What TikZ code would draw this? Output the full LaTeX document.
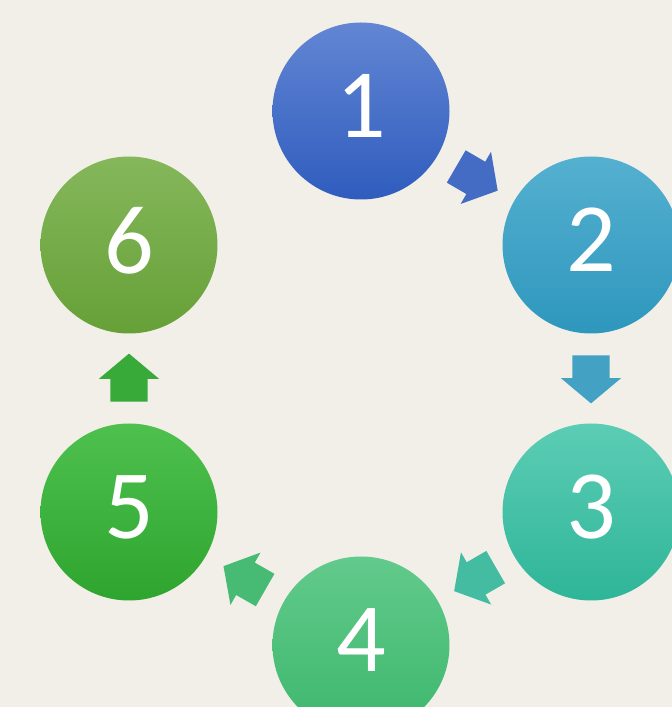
\documentclass[tikz,border=0pt]{standalone}
\usepackage{fontspec}
\setmainfont{Carlito}
\usepackage{tikz}
\usetikzlibrary{shapes.arrows}

\definecolor{paper}{HTML}{F2EFE8}
\definecolor{oneA}{HTML}{6286D3}
\definecolor{oneB}{HTML}{2F5CBE}
\definecolor{twoA}{HTML}{55B0D0}
\definecolor{twoB}{HTML}{2E97BD}
\definecolor{threeA}{HTML}{5CCDB5}
\definecolor{threeB}{HTML}{2EB598}
\definecolor{fourA}{HTML}{62CA8C}
\definecolor{fourB}{HTML}{3DB76C}
\definecolor{fiveA}{HTML}{4EC04E}
\definecolor{fiveB}{HTML}{2EA52F}
\definecolor{sixA}{HTML}{85B75B}
\definecolor{sixB}{HTML}{66A037}

\begin{document}
\begin{tikzpicture}[x=1pt,y=1pt,
    stage/.style={circle, minimum size=177pt, inner sep=0pt, text=white,
      text depth=10pt, font=\fontsize{98}{98}\selectfont},
    blockarrow/.style={single arrow, sloped, allow upside down, draw=none,
      anchor=tail, pos=0.24,
      minimum height=48pt, minimum width=60pt, inner xsep=0pt, inner ysep=18.5pt,
      single arrow head extend=11.5pt, single arrow tip angle=100}]
    \useasboundingbox (0,0) rectangle (672,707);
    \fill[paper] (0,0) rectangle (672,707);
    \clip (0,0) rectangle (672,707);

    % the six stages
    \node[stage, top color=oneA, bottom color=oneB] (s1) at (361,596) {1};
    \node[stage, top color=twoA, bottom color=twoB] (s2) at (591,462) {2};
    \node[stage, top color=threeA, bottom color=threeB] (s3) at (591,195) {3};
    \node[stage, top color=fourA, bottom color=fourB] (s4) at (361,62) {4};
    \node[stage, top color=fiveA, bottom color=fiveB] (s5) at (129,195) {5};
    \node[stage, top color=sixA, bottom color=sixB] (s6) at (129,462) {6};

    % arrows between them
    \path (s1) -- node[blockarrow, fill=oneB!90!white] {} (s2);
    \path (s2) -- node[blockarrow, fill=twoB!90!white] {} (s3);
    \path (s3) -- node[blockarrow, fill=threeB!90!white] {} (s4);
    \path (s4) -- node[blockarrow, fill=fourB!95!white] {} (s5);
    \path (s5) -- node[blockarrow, fill=fiveB!95!white] {} (s6);
\end{tikzpicture}
\end{document}
